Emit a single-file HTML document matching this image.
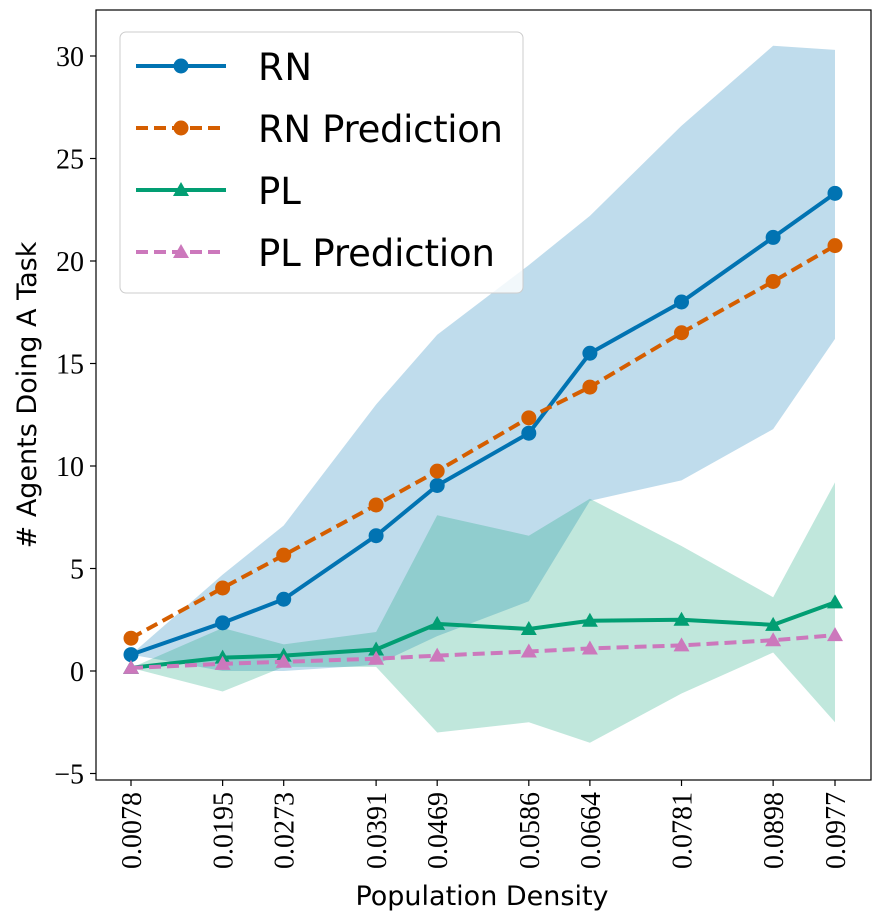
<!DOCTYPE html>
<html><head><meta charset="utf-8"><style>
body{margin:0;background:#fff;}
svg{display:block;}
.tick{font-family:"Liberation Serif",serif;font-size:28px;fill:#000;}
.lab{font-family:"DejaVu Sans","Liberation Sans",sans-serif;font-size:27px;fill:#000;}
.leg{font-family:"DejaVu Sans","Liberation Sans",sans-serif;font-size:37px;fill:#000;}
</style></head><body>
<svg id="chart" width="880" height="921"></svg>
<script>
const xs=[0.0078,0.0195,0.0273,0.0391,0.0469,0.0586,0.0664,0.0781,0.0898,0.0977];
const xLabels=["0.0078","0.0195","0.0273","0.0391","0.0469","0.0586","0.0664","0.0781","0.0898","0.0977"];
const rn=[0.8,2.35,3.5,6.6,9.05,11.6,15.5,18.0,21.15,23.3];
const rnPred=[1.6,4.05,5.65,8.1,9.75,12.35,13.85,16.5,19.0,20.75];
const pl=[0.15,0.65,0.75,1.05,2.3,2.05,2.45,2.5,2.25,3.35];
const plPred=[0.15,0.35,0.45,0.6,0.75,0.95,1.1,1.25,1.5,1.75];
const rnUpper=[0.8,4.7,7.1,13.0,16.4,19.8,22.2,26.6,30.5,30.3];
const rnLower=[0.8,0.0,0.0,0.3,1.7,3.4,8.3,9.3,11.8,16.2];
const plUpper=[0.15,2.1,1.3,1.9,7.6,6.6,8.4,6.1,3.6,9.2];
const plLower=[0.15,-1.0,0.2,0.2,-3.0,-2.5,-3.5,-1.1,0.9,-2.5];
const yTicks=[-5,0,5,10,15,20,25,30];

const svg=document.getElementById('chart');
const NS='http://www.w3.org/2000/svg';
const X=v=>131+(v-0.0078)*(704/0.0899);
const Y=v=>671-v*20.5;
function mk(tag,attrs,parent){const e=document.createElementNS(NS,tag);for(const k in attrs)e.setAttribute(k,attrs[k]);(parent||svg).appendChild(e);return e;}
function band(up,lo,fill,op,name){
  let p=xs.map((x,i)=>X(x)+','+Y(up[i]));
  for(let i=xs.length-1;i>=0;i--)p.push(X(xs[i])+','+Y(lo[i]));
  const e=mk('polygon',{points:p.join(' '),fill:fill,'fill-opacity':op});
  
  
}
band(rnUpper,rnLower,'#0173b2',0.25,'rn-band');
band(plUpper,plLower,'#029e73',0.25,'pl-band');
function series(vals,color,dash,marker,name){
  const g=mk('g',{});
  
  
  mk('polyline',{points:xs.map((x,i)=>X(x)+','+Y(vals[i])).join(' '),fill:'none',stroke:color,'stroke-width':4,'stroke-dasharray':dash||''},g);
  xs.forEach((x,i)=>{
    let m;
    if(marker==='o')m=mk('circle',{cx:X(x),cy:Y(vals[i]),r:7.5,fill:color},g);
    else{const cx=X(x),cy=Y(vals[i]);m=mk('polygon',{points:`${cx},${cy-8} ${cx-8},${cy+6} ${cx+8},${cy+6}`,fill:color},g);}
    
    
  });
}
series(rn,'#0173b2','','o','rn-line');
series(rnPred,'#d55e00','12,6','o','rn-prediction-line');
series(pl,'#029e73','','t','pl-line');
series(plPred,'#cc78bc','12,6','t','pl-prediction-line');

const frame=mk('rect',{x:96,y:10,width:775,height:770,fill:'none',stroke:'#000','stroke-width':1.2});


yTicks.forEach(v=>{
  mk('line',{x1:90,x2:96,y1:Y(v),y2:Y(v),stroke:'#000','stroke-width':1.2});
  const t=mk('text',{x:84,y:Y(v)+10,'text-anchor':'end',class:'tick'});
  t.textContent=(v<0?'\u2212'+(-v):v);
  
  
});
xs.forEach((x,i)=>{
  mk('line',{x1:X(x),x2:X(x),y1:780,y2:786,stroke:'#000','stroke-width':1.2});
  const t=mk('text',{x:X(x)+10,y:792,'text-anchor':'end',class:'tick',transform:`rotate(-90 ${X(x)+10} 792)`});
  t.textContent=xLabels[i];
  
  
});
</script>
<div style="position:absolute;left:0;top:0;width:880px;height:921px;pointer-events:none;">
<svg width="880" height="921">
<text x="482" y="905" text-anchor="middle" class="lab">Population Density</text>
<text x="36" y="395" text-anchor="middle" class="lab" transform="rotate(-90 36 395)"># Agents Doing A Task</text>
<g>
<rect x="120" y="32" width="403" height="261" rx="6" fill="#fff" fill-opacity="0.8" stroke="#ccc"/>
<g><line x1="136" x2="226" y1="66" y2="66" stroke="#0173b2" stroke-width="4"/><circle cx="181" cy="66" r="7.5" fill="#0173b2"/><text x="258" y="80" class="leg" textLength="54">RN</text></g>
<g><line x1="136" x2="226" y1="128" y2="128" stroke="#d55e00" stroke-width="4" stroke-dasharray="12,6"/><circle cx="181" cy="128" r="7.5" fill="#d55e00"/><text x="258" y="142" class="leg" textLength="245">RN Prediction</text></g>
<g><line x1="136" x2="226" y1="190" y2="190" stroke="#029e73" stroke-width="4"/><polygon points="181,182 173,196 189,196" fill="#029e73"/><text x="258" y="204" class="leg">PL</text></g>
<g><line x1="136" x2="226" y1="252" y2="252" stroke="#cc78bc" stroke-width="4" stroke-dasharray="12,6"/><polygon points="181,244 173,258 189,258" fill="#cc78bc"/><text x="258" y="266" class="leg" textLength="237">PL Prediction</text></g>
</g>
</svg></div>
</body></html>
